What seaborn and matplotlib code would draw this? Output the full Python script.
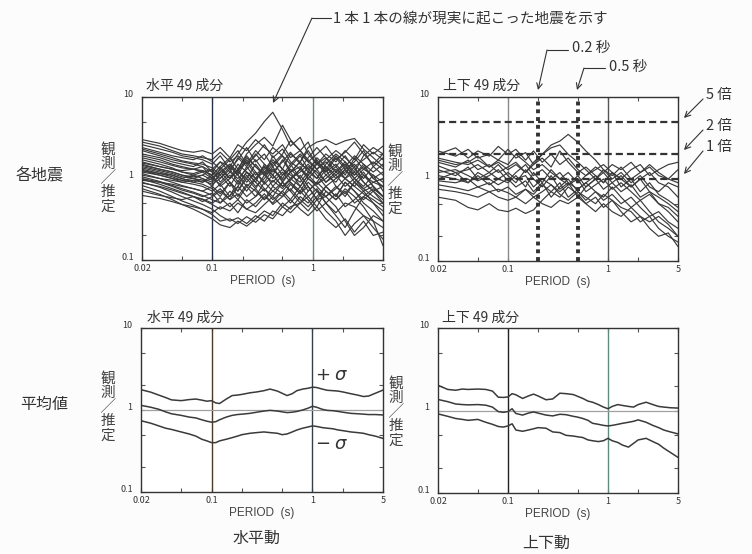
import numpy as np
import pandas as pd
import matplotlib
matplotlib.use("Agg")
import matplotlib.pyplot as plt
import seaborn as sns
from matplotlib.ticker import FixedLocator, FixedFormatter, NullFormatter
from matplotlib.patches import FancyArrowPatch
from matplotlib.lines import Line2D


# Periods (s) for the per-earthquake curves
PERIOD_EACH = [0.02, 0.03, 0.04, 0.05, 0.065, 0.08, 0.1, 0.12, 0.15, 0.18, 0.22, 0.27, 0.33,
               0.4, 0.5, 0.6, 0.75, 0.9, 1.1, 1.35, 1.7, 2.1, 2.6, 3.2, 4.0, 5.0]

# Horizontal, each earthquake (observed / estimated)
H_EACH = [
    [3.0, 2.7, 2.4, 2.2, 2.1, 2.2, 2.0, 2.4, 1.8, 2.6, 2.2, 3.0, 2.4, 2.0, 2.6, 1.8, 2.2, 1.6, 2.0, 2.5, 1.7, 2.1, 2.8, 2.0, 1.5, 2.0],
    [2.6, 2.3, 2.1, 1.9, 1.8, 1.7, 1.5, 1.9, 1.3, 1.7, 2.4, 1.6, 2.0, 1.4, 1.9, 1.2, 1.6, 2.2, 1.5, 1.2, 1.8, 1.3, 1.6, 2.2, 1.4, 1.1],
    [2.2, 1.9, 1.7, 1.6, 1.5, 1.4, 1.2, 1.6, 1.4, 2.0, 2.8, 3.6, 5.0, 6.5, 4.0, 2.5, 3.2, 2.0, 1.5, 1.8, 1.2, 1.0, 1.4, 0.9, 0.7, 0.5],
    [1.9, 1.7, 1.5, 1.4, 1.3, 1.25, 1.1, 1.4, 1.8, 1.3, 2.0, 2.6, 3.2, 2.5, 4.5, 3.0, 2.2, 2.8, 1.6, 1.3, 1.9, 1.4, 1.1, 1.5, 1.0, 0.8],
    [1.7, 1.5, 1.35, 1.2, 1.1, 1.0, 0.9, 1.1, 0.8, 1.2, 1.0, 1.5, 1.1, 1.9, 1.3, 2.0, 1.6, 2.4, 2.8, 3.0, 2.6, 2.9, 3.1, 2.3, 1.8, 1.4],
    [1.5, 1.3, 1.2, 1.1, 1.0, 0.95, 0.85, 1.0, 1.3, 0.9, 1.4, 1.0, 1.2, 0.8, 1.1, 1.5, 1.0, 0.7, 0.9, 1.3, 0.8, 0.6, 0.9, 1.2, 0.8, 0.6],
    [1.35, 1.2, 1.1, 1.0, 0.9, 0.85, 0.75, 0.6, 0.9, 0.7, 1.1, 0.8, 1.0, 1.4, 0.9, 1.2, 0.8, 1.1, 1.6, 1.1, 1.4, 1.9, 1.3, 1.0, 1.4, 1.8],
    [1.25, 1.1, 1.0, 0.9, 0.85, 0.8, 0.7, 0.85, 0.6, 0.95, 0.7, 1.0, 0.75, 0.6, 0.9, 0.7, 1.1, 0.8, 0.55, 0.8, 0.6, 0.9, 0.7, 0.5, 0.4, 0.3],
    [1.15, 1.0, 0.9, 0.82, 0.75, 0.7, 0.62, 0.75, 0.55, 0.8, 1.2, 0.9, 1.5, 1.1, 1.7, 1.2, 1.4, 1.0, 1.3, 0.9, 1.2, 1.6, 1.1, 1.4, 1.0, 1.2],
    [1.05, 0.92, 0.82, 0.75, 0.68, 0.62, 0.55, 0.5, 0.7, 0.55, 0.8, 0.6, 0.9, 0.7, 0.6, 0.85, 0.65, 0.9, 0.7, 0.5, 0.35, 0.25, 0.4, 0.6, 0.5, 0.4],
    [0.98, 0.85, 0.75, 0.68, 0.6, 0.55, 0.48, 0.42, 0.5, 0.38, 0.55, 0.45, 0.6, 0.5, 0.7, 0.55, 0.8, 0.6, 0.75, 0.5, 0.65, 0.45, 0.55, 0.7, 0.5, 0.35],
    [0.9, 0.78, 0.68, 0.6, 0.53, 0.48, 0.42, 0.35, 0.3, 0.33, 0.28, 0.35, 0.3, 0.4, 0.35, 0.45, 0.5, 0.4, 0.55, 0.6, 0.45, 0.3, 0.2, 0.25, 0.35, 0.3],
    [0.82, 0.7, 0.6, 0.53, 0.47, 0.42, 0.36, 0.3, 0.32, 0.28, 0.34, 0.29, 0.36, 0.32, 0.45, 0.38, 0.5, 0.6, 0.45, 0.7, 0.55, 0.75, 0.6, 0.45, 0.3, 0.15],
    [0.75, 0.64, 0.55, 0.48, 0.42, 0.37, 0.32, 0.27, 0.25, 0.3, 0.26, 0.32, 0.4, 0.35, 0.5, 0.42, 0.6, 0.5, 0.7, 0.6, 0.8, 0.65, 0.9, 0.75, 0.6, 0.5],
    [1.6, 1.4, 1.3, 1.25, 1.3, 1.2, 1.3, 1.6, 1.2, 1.8, 1.4, 2.0, 1.5, 1.2, 1.6, 2.1, 1.5, 1.3, 1.7, 1.2, 1.5, 1.1, 1.8, 1.3, 1.6, 1.3],
    [2.0, 1.8, 1.6, 1.5, 1.4, 1.6, 1.2, 1.0, 1.4, 1.1, 1.7, 1.2, 0.9, 1.3, 1.0, 1.4, 1.9, 1.3, 1.0, 1.5, 2.0, 1.6, 1.2, 1.9, 2.4, 2.0],
    [1.1, 1.0, 0.95, 0.9, 0.95, 0.9, 1.1, 0.8, 1.0, 1.3, 0.9, 1.2, 0.85, 1.1, 0.8, 0.95, 1.3, 1.0, 0.8, 0.6, 0.75, 1.0, 0.8, 0.65, 0.55, 0.45],
    [1.3, 1.15, 1.05, 0.95, 0.9, 1.0, 0.8, 1.2, 0.9, 0.7, 1.0, 0.75, 1.1, 0.9, 1.2, 0.9, 0.7, 1.0, 0.85, 1.1, 0.9, 1.3, 1.0, 0.8, 1.1, 0.9],
    [2.4, 2.1, 1.9, 1.8, 1.7, 1.9, 1.6, 1.3, 1.7, 2.2, 1.5, 1.9, 2.6, 1.8, 2.3, 1.6, 1.3, 1.8, 2.4, 1.8, 1.4, 1.0, 0.8, 1.1, 0.8, 0.6],
    [0.7, 0.62, 0.58, 0.55, 0.6, 0.52, 0.6, 0.7, 0.55, 0.65, 0.5, 0.6, 0.75, 0.55, 0.7, 0.9, 0.65, 0.8, 0.55, 0.4, 0.3, 0.2, 0.28, 0.35, 0.25, 0.18],
    [1.45, 1.3, 1.2, 1.1, 1.05, 1.1, 1.3, 0.9, 1.2, 1.0, 1.3, 1.7, 1.2, 1.6, 1.1, 1.3, 1.0, 1.4, 1.2, 0.9, 1.1, 0.8, 1.0, 0.75, 0.9, 1.0],
    [1.8, 1.6, 1.45, 1.35, 1.3, 1.4, 1.0, 1.3, 1.0, 1.5, 1.2, 1.0, 1.3, 1.7, 1.3, 1.0, 1.3, 1.1, 1.5, 2.0, 1.6, 2.2, 1.7, 2.6, 2.0, 2.5],
    [0.95, 0.9, 0.85, 0.8, 0.75, 0.7, 0.8, 0.65, 0.9, 0.6, 0.85, 0.7, 0.55, 0.8, 0.65, 0.5, 0.7, 0.55, 0.4, 0.5, 0.38, 0.5, 0.45, 0.35, 0.3, 0.25],
    [1.2, 1.1, 1.0, 0.95, 1.0, 1.1, 0.95, 1.3, 1.0, 1.25, 1.6, 1.1, 1.4, 1.0, 1.3, 1.1, 0.9, 1.2, 1.0, 1.4, 1.0, 1.2, 1.5, 1.1, 0.9, 0.8],
    [2.8, 2.5, 2.2, 2.0, 1.9, 1.8, 1.7, 2.1, 1.6, 1.9, 1.5, 2.2, 1.7, 2.4, 1.9, 1.5, 2.0, 1.6, 1.3, 1.7, 2.2, 1.8, 1.4, 1.7, 2.1, 1.7],
    [1.4, 1.25, 1.15, 1.05, 1.0, 0.9, 1.0, 1.2, 1.5, 1.1, 0.8, 1.0, 1.4, 1.1, 0.8, 1.0, 1.2, 1.5, 1.1, 0.8, 1.0, 1.3, 0.9, 0.7, 0.8, 0.6],
    [1.0, 0.9, 0.8, 0.72, 0.66, 0.6, 0.66, 0.5, 0.62, 0.8, 0.6, 0.75, 0.55, 0.7, 0.9, 0.7, 0.5, 0.7, 0.9, 0.7, 0.55, 0.7, 0.5, 0.6, 0.75, 0.6],
    [0.88, 0.8, 0.72, 0.66, 0.6, 0.56, 0.5, 0.58, 0.45, 0.55, 0.42, 0.5, 0.65, 0.48, 0.6, 0.75, 0.55, 0.45, 0.6, 0.8, 0.6, 0.9, 0.7, 0.55, 0.7, 0.8],
    [2.3, 2.0, 1.8, 1.65, 1.55, 1.5, 1.35, 1.1, 1.5, 1.2, 1.8, 1.4, 1.1, 1.5, 2.0, 2.9, 2.2, 1.7, 1.3, 1.6, 1.2, 1.5, 1.0, 1.3, 1.1, 0.7],
    [1.25, 1.15, 1.1, 1.0, 1.1, 1.2, 1.0, 0.85, 1.1, 0.85, 1.2, 0.9, 0.7, 0.95, 0.75, 1.0, 0.8, 1.1, 0.85, 1.0, 1.3, 1.0, 1.2, 0.9, 0.7, 0.55],
    [0.62, 0.57, 0.52, 0.48, 0.45, 0.42, 0.38, 0.45, 0.4, 0.5, 0.42, 0.38, 0.48, 0.6, 0.45, 0.55, 0.42, 0.35, 0.45, 0.32, 0.25, 0.32, 0.22, 0.3, 0.2, 0.22],
    [1.55, 1.4, 1.3, 1.2, 1.15, 1.25, 1.1, 1.4, 1.0, 1.3, 1.9, 1.4, 1.1, 1.3, 0.95, 1.2, 1.6, 1.2, 1.8, 1.4, 1.1, 1.4, 1.9, 1.5, 1.2, 1.5],
]

# Vertical, each earthquake
V_EACH = [
    [0.6, 0.55, 0.45, 0.42, 0.5, 0.42, 0.4, 0.44, 0.38, 0.42, 0.55, 0.7, 0.6, 0.8, 0.65, 0.5, 0.6, 0.45, 0.55, 0.4, 0.3, 0.35, 0.25, 0.2, 0.22, 0.15],
    [0.85, 0.78, 0.72, 0.8, 0.7, 0.75, 0.68, 0.6, 0.75, 0.65, 0.85, 0.7, 0.9, 0.6, 0.75, 0.9, 0.7, 0.55, 0.65, 0.5, 0.6, 0.45, 0.35, 0.4, 0.3, 0.25],
    [1.0, 1.2, 0.9, 1.1, 0.85, 1.0, 0.9, 1.1, 0.8, 1.2, 0.9, 1.3, 1.0, 0.85, 1.1, 0.8, 1.0, 0.75, 0.9, 0.7, 0.85, 0.6, 0.7, 0.5, 0.45, 0.35],
    [1.6, 1.4, 1.7, 1.3, 1.5, 1.2, 1.4, 1.6, 1.2, 1.5, 1.8, 1.4, 2.2, 1.6, 1.2, 1.4, 1.1, 0.9, 1.2, 1.0, 0.8, 1.0, 0.7, 0.6, 0.5, 0.4],
    [2.2, 1.9, 2.3, 1.8, 2.0, 1.7, 2.3, 1.8, 2.1, 1.5, 2.0, 2.4, 2.6, 2.0, 1.6, 1.3, 1.0, 1.2, 0.9, 1.1, 0.8, 1.0, 1.2, 0.9, 0.8, 0.6],
    [1.8, 1.6, 1.5, 1.7, 1.4, 1.6, 1.3, 1.5, 1.2, 1.6, 2.0, 2.6, 2.9, 3.5, 2.8, 2.2, 1.7, 1.3, 1.0, 1.2, 0.9, 1.1, 0.8, 0.7, 0.9, 0.8],
    [1.3, 1.1, 1.4, 1.0, 1.2, 1.5, 1.1, 0.9, 1.3, 1.0, 0.8, 1.1, 0.75, 0.9, 0.6, 0.8, 1.0, 1.3, 1.1, 1.4, 1.0, 1.2, 1.5, 1.2, 1.0, 1.3],
    [1.1, 1.0, 0.9, 1.2, 1.0, 0.85, 1.0, 0.8, 0.95, 0.7, 0.9, 0.6, 0.8, 1.0, 0.7, 0.55, 0.7, 0.6, 0.8, 0.6, 0.45, 0.55, 0.4, 0.3, 0.25, 0.2],
    [2.0, 2.4, 1.8, 2.2, 1.9, 2.5, 2.0, 2.3, 1.7, 2.2, 1.6, 2.0, 1.5, 1.8, 1.3, 1.1, 1.4, 1.2, 1.5, 1.3, 1.6, 1.2, 1.4, 1.1, 1.0, 0.9],
    [1.2, 1.3, 1.1, 0.95, 1.1, 1.3, 0.95, 1.2, 1.5, 1.1, 1.3, 1.0, 1.2, 0.9, 0.75, 0.9, 1.1, 0.9, 1.2, 0.8, 1.0, 0.7, 0.9, 0.65, 0.55, 0.45],
    [1.45, 1.2, 1.3, 1.5, 1.2, 1.0, 1.2, 1.0, 1.1, 0.8, 1.0, 0.85, 0.7, 0.85, 1.0, 0.7, 0.85, 1.0, 0.75, 0.9, 0.7, 0.55, 0.65, 0.5, 0.4, 0.3],
    [0.95, 0.9, 1.0, 0.8, 0.9, 0.7, 0.8, 0.65, 0.75, 0.6, 0.7, 0.85, 0.65, 0.55, 0.7, 0.6, 0.5, 0.65, 0.55, 0.45, 0.4, 0.3, 0.35, 0.25, 0.2, 0.17],
    [1.7, 1.5, 1.6, 1.9, 1.4, 1.7, 1.5, 2.0, 1.6, 1.3, 1.5, 1.2, 1.0, 1.2, 0.9, 1.1, 1.3, 1.5, 1.2, 1.0, 1.3, 1.5, 1.1, 1.3, 1.5, 1.6],
    [0.75, 0.7, 0.65, 0.6, 0.7, 0.6, 0.55, 0.6, 0.5, 0.6, 0.5, 0.45, 0.55, 0.5, 0.6, 0.5, 0.4, 0.5, 0.4, 0.35, 0.45, 0.35, 0.3, 0.35, 0.28, 0.2],
]

# Periods (s) for the mean / +-sigma curves
PERIOD_MEAN = [0.02, 0.025, 0.03, 0.035, 0.04, 0.05, 0.06, 0.07, 0.08, 0.09, 0.1, 0.11, 0.12, 0.14,
               0.16, 0.18, 0.2, 0.24, 0.28, 0.33, 0.38, 0.45, 0.5, 0.56, 0.63, 0.7, 0.8, 0.9, 1.0,
               1.1, 1.25, 1.4, 1.6, 1.8, 2.0, 2.4, 2.8, 3.2, 3.6, 4.2, 5.0]

H_PLUS = [1.77, 1.65, 1.52, 1.42, 1.33, 1.30, 1.34, 1.36, 1.32, 1.28, 1.30, 1.22, 1.20, 1.36,
          1.50, 1.52, 1.55, 1.62, 1.66, 1.72, 1.80, 1.70, 1.60, 1.50, 1.58, 1.72, 1.80, 1.84, 1.90,
          1.88, 1.80, 1.74, 1.72, 1.70, 1.66, 1.58, 1.52, 1.46, 1.48, 1.60, 1.75]
H_MEAN = [1.14, 1.08, 1.02, 0.95, 0.90, 0.86, 0.82, 0.80, 0.76, 0.73, 0.71, 0.72, 0.76, 0.82,
          0.86, 0.88, 0.89, 0.91, 0.94, 0.97, 0.99, 0.97, 0.95, 0.93, 0.94, 0.96, 1.00, 1.05, 1.11,
          1.08, 1.02, 0.99, 0.98, 0.96, 0.94, 0.91, 0.90, 0.89, 0.88, 0.88, 0.87]
H_MINUS = [0.74, 0.69, 0.64, 0.60, 0.58, 0.54, 0.51, 0.48, 0.44, 0.42, 0.40, 0.40, 0.42, 0.44,
           0.46, 0.48, 0.50, 0.52, 0.53, 0.54, 0.53, 0.52, 0.50, 0.51, 0.54, 0.57, 0.60, 0.62, 0.64,
           0.63, 0.61, 0.60, 0.59, 0.57, 0.56, 0.54, 0.53, 0.52, 0.50, 0.48, 0.45]

V_PLUS = [2.02, 1.80, 1.76, 1.82, 1.80, 1.82, 1.80, 1.72, 1.45, 1.44, 1.46, 1.60, 1.55, 1.40,
          1.50, 1.58, 1.50, 1.35, 1.38, 1.62, 1.60, 1.56, 1.48, 1.40, 1.30, 1.26, 1.18, 1.10, 1.05,
          1.12, 1.18, 1.15, 1.12, 1.10, 1.18, 1.26, 1.18, 1.12, 1.10, 1.08, 1.07]
V_MEAN = [1.36, 1.28, 1.20, 1.18, 1.17, 1.18, 1.16, 1.10, 0.97, 0.95, 0.97, 1.05, 0.92, 0.88,
          0.93, 0.96, 0.93, 0.88, 0.86, 0.90, 0.89, 0.85, 0.83, 0.80, 0.76, 0.70, 0.68, 0.66, 0.65,
          0.66, 0.68, 0.70, 0.72, 0.74, 0.77, 0.72, 0.66, 0.62, 0.58, 0.55, 0.52]
V_MINUS = [0.91, 0.85, 0.80, 0.78, 0.76, 0.78, 0.72, 0.68, 0.64, 0.63, 0.65, 0.69, 0.58, 0.56,
           0.58, 0.60, 0.62, 0.61, 0.55, 0.54, 0.50, 0.49, 0.48, 0.47, 0.44, 0.43, 0.42, 0.43, 0.46,
           0.43, 0.41, 0.38, 0.36, 0.40, 0.44, 0.46, 0.42, 0.39, 0.35, 0.31, 0.27]

X_TICKS = [0.02, 0.1, 1, 5]
X_LABELS = ["0.02", "0.1", "1", "5"]
Y_TICKS = [0.1, 1, 10]
Y_LABELS = ["0.1", "1", "10"]
X_MINOR = [0.05, 0.2, 0.5, 2]
Y_MINOR = [0.2, 0.5, 2, 5]

RATIO_LINES = [5, 2, 1]           # 5倍, 2倍, 1倍
MARK_PERIODS = [0.2, 0.5]         # 0.2秒, 0.5秒

W, H = 752, 554
INK = "#3a3a3a"


def fx(x):
    return x / W


def fy(y):
    return 1 - y / H


def long_form(periods, lines):
    rows = []
    for i, vals in enumerate(lines):
        for p, v in zip(periods, vals, strict=True):
            rows.append((i, p, v))
    return pd.DataFrame(rows, columns=["line", "period", "ratio"])


def style_axes(ax, c01, c1):
    ax.set_xscale("log")
    ax.set_yscale("log")
    ax.set_xlim(0.02, 5)
    ax.set_ylim(0.1, 10)
    ax.xaxis.set_major_locator(FixedLocator(X_TICKS))
    ax.xaxis.set_major_formatter(FixedFormatter(X_LABELS))
    ax.xaxis.set_minor_locator(FixedLocator(X_MINOR))
    ax.xaxis.set_minor_formatter(NullFormatter())
    ax.yaxis.set_major_locator(FixedLocator(Y_TICKS))
    ax.yaxis.set_major_formatter(FixedFormatter(Y_LABELS))
    ax.yaxis.set_minor_locator(FixedLocator(Y_MINOR))
    ax.yaxis.set_minor_formatter(NullFormatter())
    ax.tick_params(which="both", direction="in", top=True, right=True,
                   length=3, width=0.8, color="#555", labelsize=6.5, labelcolor="#333")
    ax.tick_params(axis="x", pad=3)
    ax.tick_params(axis="y", pad=6)
    for t in ax.yaxis.get_major_ticks():
        t.label1.set_va("baseline")
    for s in ax.spines.values():
        s.set_color("#333")
        s.set_linewidth(1.0)
    ax.axvline(0.1, color=c01, lw=1.0, zorder=1)
    ax.axvline(1, color=c1, lw=1.0, zorder=1)
    ax.set_ylabel("")
    ax.set_xlabel("PERIOD  (s)", fontsize=8.5, color="#444", labelpad=1,
                  family=["Liberation Sans", "DejaVu Sans"])
    ax.set_facecolor("white")


sns.set_theme(style="ticks")
plt.rcParams["font.family"] = ["Noto Sans CJK JP", "DejaVu Sans"]
plt.rcParams["axes.unicode_minus"] = True

fig = plt.figure(figsize=(W / 100, H / 100), dpi=100)
fig.patch.set_facecolor("#fdfcfd")


def add_ax(x0, y0, x1, y1):
    return fig.add_axes([fx(x0), fy(y1), (x1 - x0) / W, (y1 - y0) / H])


ax_he = add_ax(142, 97, 383, 260)
ax_ve = add_ax(438, 97, 678, 261)
ax_hm = add_ax(141, 328, 383, 492)
ax_vm = add_ax(438, 328, 678, 493)

# each earthquake
sns.lineplot(data=long_form(PERIOD_EACH, H_EACH), x="period", y="ratio", units="line",
             estimator=None, color=INK, lw=0.85, ax=ax_he, legend=False)
sns.lineplot(data=long_form(PERIOD_EACH, V_EACH), x="period", y="ratio", units="line",
             estimator=None, color=INK, lw=0.85, ax=ax_ve, legend=False)

# mean +- sigma
sns.lineplot(data=long_form(PERIOD_MEAN, [H_PLUS, H_MEAN, H_MINUS]), x="period", y="ratio",
             units="line", estimator=None, color=INK, lw=1.1, ax=ax_hm, legend=False)
sns.lineplot(data=long_form(PERIOD_MEAN, [V_PLUS, V_MEAN, V_MINUS]), x="period", y="ratio",
             units="line", estimator=None, color=INK, lw=1.1, ax=ax_vm, legend=False)

style_axes(ax_he, "#27304a", "#6f8a74")
style_axes(ax_ve, "#8a8a8a", "#555555")
style_axes(ax_hm, "#4a3a28", "#33404a")
style_axes(ax_vm, "#222222", "#5e8a80")

ax_hm.axhline(1, color="#a0a0a0", lw=0.9, zorder=1)
ax_vm.axhline(1, color="#a0a0a0", lw=0.9, zorder=1)

for r in RATIO_LINES:
    ax_ve.axhline(r, color="#333", lw=1.6, ls=(0, (3.2, 1.8)), zorder=3)
for p in MARK_PERIODS:
    ax_ve.axvline(p, color="#333", lw=2.8, ls=(0, (1.0, 1.0)), zorder=3)

# panel titles
txt = dict(color="#333", va="center", ha="left")
fig.text(fx(146), fy(86), "水平 49 成分", fontsize=10, **txt)
fig.text(fx(443), fy(86), "上下 49 成分", fontsize=10, **txt)
fig.text(fx(147), fy(318), "水平 49 成分", fontsize=10, **txt)
fig.text(fx(442), fy(318), "上下 49 成分", fontsize=10, **txt)

# vertical y labels
ylab = "観\n測\n╱\n推\n定"
for x, y in [(108, 178), (395, 180), (108, 407), (396, 412)]:
    fig.text(fx(x), fy(y), ylab, fontsize=10.5, color="#444", ha="center", va="center",
             linespacing=1.0)

# row / column labels
fig.text(fx(40), fy(176), "各地震", fontsize=11.5, color="#333", ha="center", va="center")
fig.text(fx(44), fy(404), "平均値", fontsize=11.5, color="#333", ha="center", va="center")
fig.text(fx(257), fy(538), "水平動", fontsize=11.5, color="#333", ha="center", va="center")
fig.text(fx(546), fy(543), "上下動", fontsize=11.5, color="#333", ha="center", va="center")

# sigma labels
fig.text(fx(315), fy(375), r"$+\;\sigma$", fontsize=13, color="#333", ha="left", va="center")
fig.text(fx(315), fy(444), r"$-\;\sigma$", fontsize=13, color="#333", ha="left", va="center")


def leader(x0, y0, x1, y1, hx=None):
    if hx is not None:
        fig.add_artist(Line2D([fx(x0), fx(hx)], [fy(y0), fy(y0)], transform=fig.transFigure,
                              color="#333", lw=0.8))
    fig.add_artist(FancyArrowPatch((fx(x0), fy(y0)), (fx(x1), fy(y1)),
                                   transform=fig.transFigure, color="#333", lw=0.8,
                                   arrowstyle="->,head_length=4,head_width=2",
                                   shrinkA=0, shrinkB=0))


# annotations
fig.text(fx(333), fy(18), "1 本 1 本の線が現実に起こった地震を示す", fontsize=10.5, **txt)
leader(312, 18, 273, 103, hx=331)

fig.text(fx(572), fy(48), "0.2 秒", fontsize=10.5, **txt)
leader(547, 50, 538, 90, hx=568)
fig.text(fx(609), fy(67), "0.5 秒", fontsize=10.5, **txt)
leader(584, 68, 577, 90, hx=605)

fig.text(fx(706), fy(95), "5 倍", fontsize=10.5, **txt)
leader(703, 99, 684, 118)
fig.text(fx(706), fy(126), "2 倍", fontsize=10.5, **txt)
leader(703, 130, 684, 150)
fig.text(fx(706), fy(147), "1 倍", fontsize=10.5, **txt)
leader(703, 151, 684, 174)

fig.savefig("out.png", dpi=100, facecolor=fig.get_facecolor())
